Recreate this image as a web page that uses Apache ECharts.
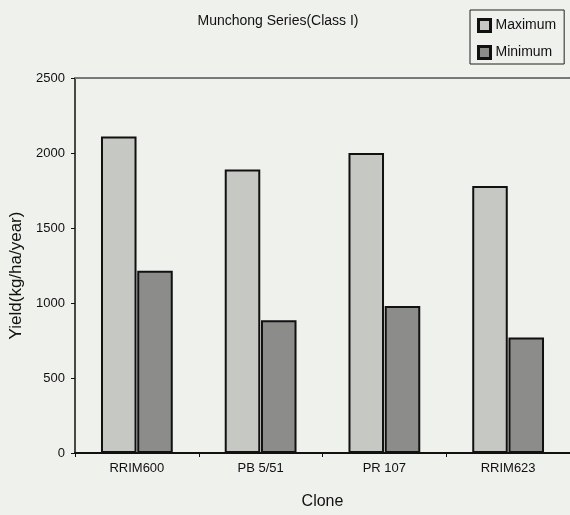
<!DOCTYPE html>
<html>
<head>
<meta charset="utf-8">
<script src="https://cdn.jsdelivr.net/npm/echarts@6/dist/echarts.min.js"></script>
<style>
  html, body { margin: 0; padding: 0; background: #eef1ec; }
  #chart { width: 570px; height: 515px; }
</style>
</head>
<body>
<div id="chart"></div>
<script>
// Clone yields on Munchong series soil (Class I)
const clones = ['RRIM600', 'PB 5/51', 'PR 107', 'RRIM623'];
const maximumYield = [2110, 1890, 2000, 1780];
const minimumYield = [1215, 885, 980, 770];
const yTicks = [0, 500, 1000, 1500, 2000, 2500];

const font = 'Liberation Sans, Arial, sans-serif';
const chart = echarts.init(document.getElementById('chart'));

chart.setOption({
  backgroundColor: '#eef1ec',
  animation: false,
  title: {
    text: 'Munchong Series(Class I)',
    left: 273, top: 9, textAlign: 'center',
    textStyle: { fontFamily: font, fontSize: 14, fontWeight: 'normal', color: '#111' }
  },
  legend: {
    orient: 'vertical',
    left: 470, top: 10,
    padding: [8, 8, 4, 7],
    borderColor: '#222', borderWidth: 1,
    itemWidth: 12, itemHeight: 12, itemGap: 12,
    icon: 'rect',
    itemStyle: { borderColor: '#111', borderWidth: 3 },
    textStyle: { fontFamily: font, fontSize: 14, color: '#111' },
    data: ['Maximum', 'Minimum']
  },
  grid: { left: 72, right: 0, top: 78, bottom: 56 },
  xAxis: [{
    type: 'category',
    data: clones,
    name: 'Clone',
    nameLocation: 'middle',
    nameGap: 41,
    nameTextStyle: { fontFamily: font, fontSize: 16, color: '#111' },
    axisLine: { lineStyle: { color: '#111', width: 2 } },
    axisTick: { show: true, length: 4, lineStyle: { color: '#111' } },
    axisLabel: { fontFamily: font, fontSize: 13, color: '#111', margin: 9 }
  }, {
    type: 'category',
    data: clones,
    position: 'top',
    axisLine: { lineStyle: { color: '#777', width: 2, type: [1, 1] } },
    axisTick: { show: false },
    axisLabel: { show: false }
  }],
  yAxis: {
    type: 'value',
    min: yTicks[0], max: yTicks[yTicks.length - 1], interval: 500,
    name: 'Yield(kg/ha/year)',
    nameLocation: 'middle',
    nameGap: 50,
    nameTextStyle: { fontFamily: font, fontSize: 17, color: '#111', padding: [0, 20, 0, 0] },
    axisLine: { show: true, lineStyle: { color: '#111', width: 1.5 } },
    axisTick: { show: true, length: 4, lineStyle: { color: '#111' } },
    axisLabel: { fontFamily: font, fontSize: 13, color: '#111', margin: 10, formatter: v => String(v) },
    splitLine: { show: false }
  },
  series: [{
    name: 'Maximum',
    type: 'bar',
    data: maximumYield,
    barCategoryGap: '42%',
    barGap: '2%',
    itemStyle: { color: '#c6c8c4', borderColor: '#111', borderWidth: 2 }
  }, {
    name: 'Minimum',
    type: 'bar',
    data: minimumYield,
    itemStyle: { color: '#8c8d8b', borderColor: '#111', borderWidth: 2 }
  }]
});
</script>
</body>
</html>
